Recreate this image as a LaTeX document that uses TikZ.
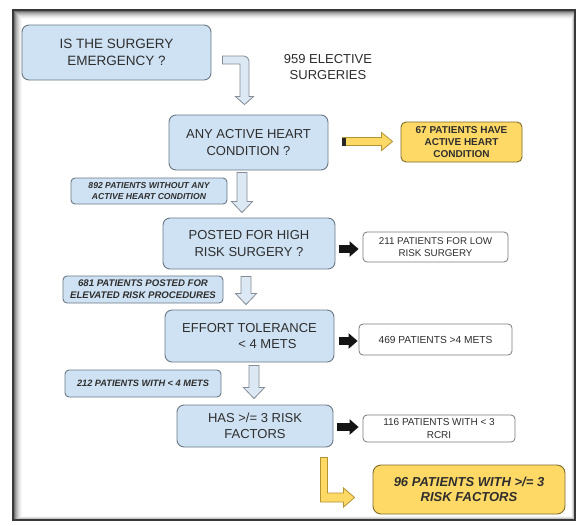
\documentclass[tikz,border=0pt]{standalone}
\usepackage{fontspec}
\setmainfont{Liberation Sans}
\usetikzlibrary{calc,arrows.meta}
\definecolor{bluefill}{HTML}{CFE2F3}
\definecolor{arrowfill}{HTML}{DCE8F4}
\definecolor{blueline}{HTML}{6B7785}
\definecolor{arrowline}{HTML}{858C96}
\definecolor{yelfill}{HTML}{FFD966}
\definecolor{yelline}{HTML}{7F6A2A}
\definecolor{yelarrow}{HTML}{B39433}
\definecolor{txt}{HTML}{2E2E2E}
\definecolor{boxline}{HTML}{7A7A7A}
\newcommand\blockdown[2]{%
  \draw[downarrow] ($(#1)+(-5,0)$) -- ($(#2)+(-5,-11)$) -- ($(#2)+(-10.5,-11)$) -- (#2)
    -- ($(#2)+(10.5,-11)$) -- ($(#2)+(5,-11)$) -- ($(#1)+(5,0)$) -- cycle;}
\tikzset{
  bluebox/.style={draw=blueline, fill=bluefill, rounded corners=7pt, line width=0.9pt,
    text=txt, align=center, inner sep=0pt, font=\fontsize{13}{16.5}\selectfont},
  notebox/.style={draw=blueline, fill=bluefill, rounded corners=4pt, line width=0.9pt,
    text=txt, align=center, inner sep=0pt, font=\fontsize{8.6}{10.5}\selectfont\bfseries\itshape},
  whitebox/.style={draw=boxline, fill=white, rounded corners=4pt, line width=0.8pt,
    text=txt, align=center, inner sep=0pt, font=\fontsize{9.8}{12}\selectfont},
  yelbox/.style={draw=yelline, fill=yelfill, rounded corners=6pt, line width=0.9pt,
    text=txt, align=center, inner sep=0pt},
  downarrow/.style={draw=arrowline, fill=arrowfill, line width=0.8pt, line join=miter},
  yarrow/.style={draw=yelarrow, fill=yelfill, line width=0.8pt, line join=miter},
  blackarrow/.style={draw=black!92, line width=7.5pt, -{Triangle[width=15pt,length=9pt]}}
}
\begin{document}
\begin{tikzpicture}[x=1pt,y=-1pt]
\useasboundingbox (0,0) rectangle (577,525);
% frame with inner shadow
\fill[white] (0,0) rectangle (577,525);
\foreach \i/\g in {1/55,2/42,3/32,4/24,5/17,6/11,7/6,8/3}{
  \draw[line width=1pt, black!\g] (13+\i,10+\i) rectangle (575-\i*0.5,520-\i*0.5);
}
\draw[line width=2pt, black!78] (13,10) rectangle (575,520);

% main boxes
\node[bluebox, minimum width=189, minimum height=55, font=\fontsize{13.5}{17.5}\selectfont] (b1) at (116.5,52.5) {IS THE SURGERY\\EMERGENCY ?};
\node[text=txt, align=center, font=\fontsize{13}{15.5}\selectfont] (t959) at (328,67) {959 ELECTIVE\\SURGERIES};
\node[bluebox, minimum width=159, minimum height=55] (b2) at (248.5,142.5) {ANY ACTIVE HEART\\CONDITION ?};
\node[yelbox, minimum width=121, minimum height=40, rounded corners=5pt, font=\fontsize{10}{12}\selectfont\bfseries] (y67) at (461.5,142) {67 PATIENTS HAVE\\ACTIVE HEART\\CONDITION};
\node[notebox, minimum width=156, minimum height=26] (n892) at (149,191) {892 PATIENTS WITHOUT ANY\\ACTIVE HEART CONDITION};
\node[bluebox, minimum width=172, minimum height=51] (b3) at (249,243.5) {POSTED FOR HIGH\\RISK SURGERY ?};
\node[whitebox, minimum width=145, minimum height=30] (r211) at (435.5,247) {211 PATIENTS FOR LOW\\RISK SURGERY};
\node[notebox, minimum width=160, minimum height=27, font=\fontsize{9.6}{12}\selectfont\bfseries\itshape] (n681) at (143,289.5) {681 PATIENTS POSTED FOR\\ELEVATED RISK PROCEDURES};
\node[bluebox, minimum width=169, minimum height=52] (b4) at (249.5,336) {EFFORT TOLERANCE\\\hspace*{36pt}< 4 METS};
\node[whitebox, minimum width=153, minimum height=31, font=\fontsize{10.2}{12}\selectfont] (r469) at (435.5,339.5) {469 PATIENTS >4 METS};
\node[notebox, minimum width=156, minimum height=27, font=\fontsize{9.2}{11}\selectfont\bfseries\itshape] (n212) at (143,383.5) {212 PATIENTS WITH < 4 METS};
\node[bluebox, minimum width=156, minimum height=42] (b5) at (255,426) {HAS >/= 3 RISK\\FACTORS};
\node[whitebox, minimum width=152, minimum height=27, font=\fontsize{10}{12.5}\selectfont] (r116) at (439,428.5) {116 PATIENTS WITH < 3\\RCRI};
\node[yelbox, minimum width=192, minimum height=49, rounded corners=8pt, font=\fontsize{13}{15.5}\selectfont\bfseries\itshape] (y96) at (469,489.5) {96 PATIENTS WITH >/= 3\\RISK FACTORS};

% bent arrow from b1 to b2
\coordinate (c1s) at ($(b1.east)+(11,7.5)$);
\coordinate (c1e) at ($(b2.north)+(-4,-10)$);
\coordinate (c1k) at (c1s -| c1e);
\draw[downarrow] ($(c1s)+(0,-4)$) -- ($(c1k)+(-0.5,-4)$) arc[start angle=90, end angle=0, radius=5pt]
  -- ($(c1e)+(4.5,-8)$) -- ($(c1e)+(9,-8)$) -- (c1e) -- ($(c1e)+(-9,-8)$) -- ($(c1e)+(-4.5,-8)$)
  -- ($(c1k)+(-4.5,4)$) -- ($(c1s)+(0,4)$) -- cycle;

% yellow arrow from b2 to y67
\coordinate (ya1) at ($(b2.east |- y67.west)+(14,-0.5)$);
\coordinate (ya2) at ($(y67.west)+(-8,-0.5)$);
\draw[yarrow] ($(ya1)+(0,-4)$) -- ($(ya2)+(-11,-4)$) -- ($(ya2)+(-11,-9)$) -- (ya2)
  -- ($(ya2)+(-11,9)$) -- ($(ya2)+(-11,4)$) -- ($(ya1)+(0,4)$) -- cycle;
\fill[black!85] ($(ya1)+(0,-4)$) rectangle ($(ya1)+(4,4)$);

% down arrows
\coordinate (d1s) at ($(b2.south)+(-6.5,2)$);
\coordinate (d1e) at ($(d1s |- b3.north)+(0,-5)$);
\blockdown{d1s}{d1e}
\coordinate (d2s) at ($(b3.south)+(-3,7)$);
\coordinate (d2e) at ($(d2s |- b4.north)+(0,-5)$);
\blockdown{d2s}{d2e}
\coordinate (d3s) at ($(b4.south)+(4.5,3)$);
\coordinate (d3e) at ($(d3s |- b5.north)+(0,-6)$);
\blockdown{d3s}{d3e}

% black arrows
\draw[blackarrow, shorten <=4pt, shorten >=4pt] ($(b3.east |- r211.west)+(0,2)$) -- ($(r211.west)+(0,2)$);
\draw[blackarrow, shorten <=5pt, shorten >=1pt] ($(b4.east |- r469.west)+(0,1.5)$) -- ($(r469.west)+(0,1.5)$);
\draw[blackarrow, shorten <=4pt, shorten >=4pt] ($(b5.east |- r116.west)+(0,-1.5)$) -- ($(r116.west)+(0,-1.5)$);

% yellow bent arrow from b5 to y96
\coordinate (e1s) at ($(b5.south east)+(-9.5,10)$);
\coordinate (e1e) at ($(y96.west)+(-18,8)$);
\coordinate (e1k) at (e1s |- e1e);
\draw[yarrow] ($(e1s)+(-3.5,0)$) -- ($(e1k)+(-3.5,4.5)$) -- ($(e1e)+(-11,4.5)$) -- ($(e1e)+(-11,9.5)$)
  -- (e1e) -- ($(e1e)+(-11,-9.5)$) -- ($(e1e)+(-11,-4.5)$) -- ($(e1k)+(3.5,-4.5)$)
  -- ($(e1s)+(3.5,0)$) -- cycle;
\end{tikzpicture}
\end{document}
